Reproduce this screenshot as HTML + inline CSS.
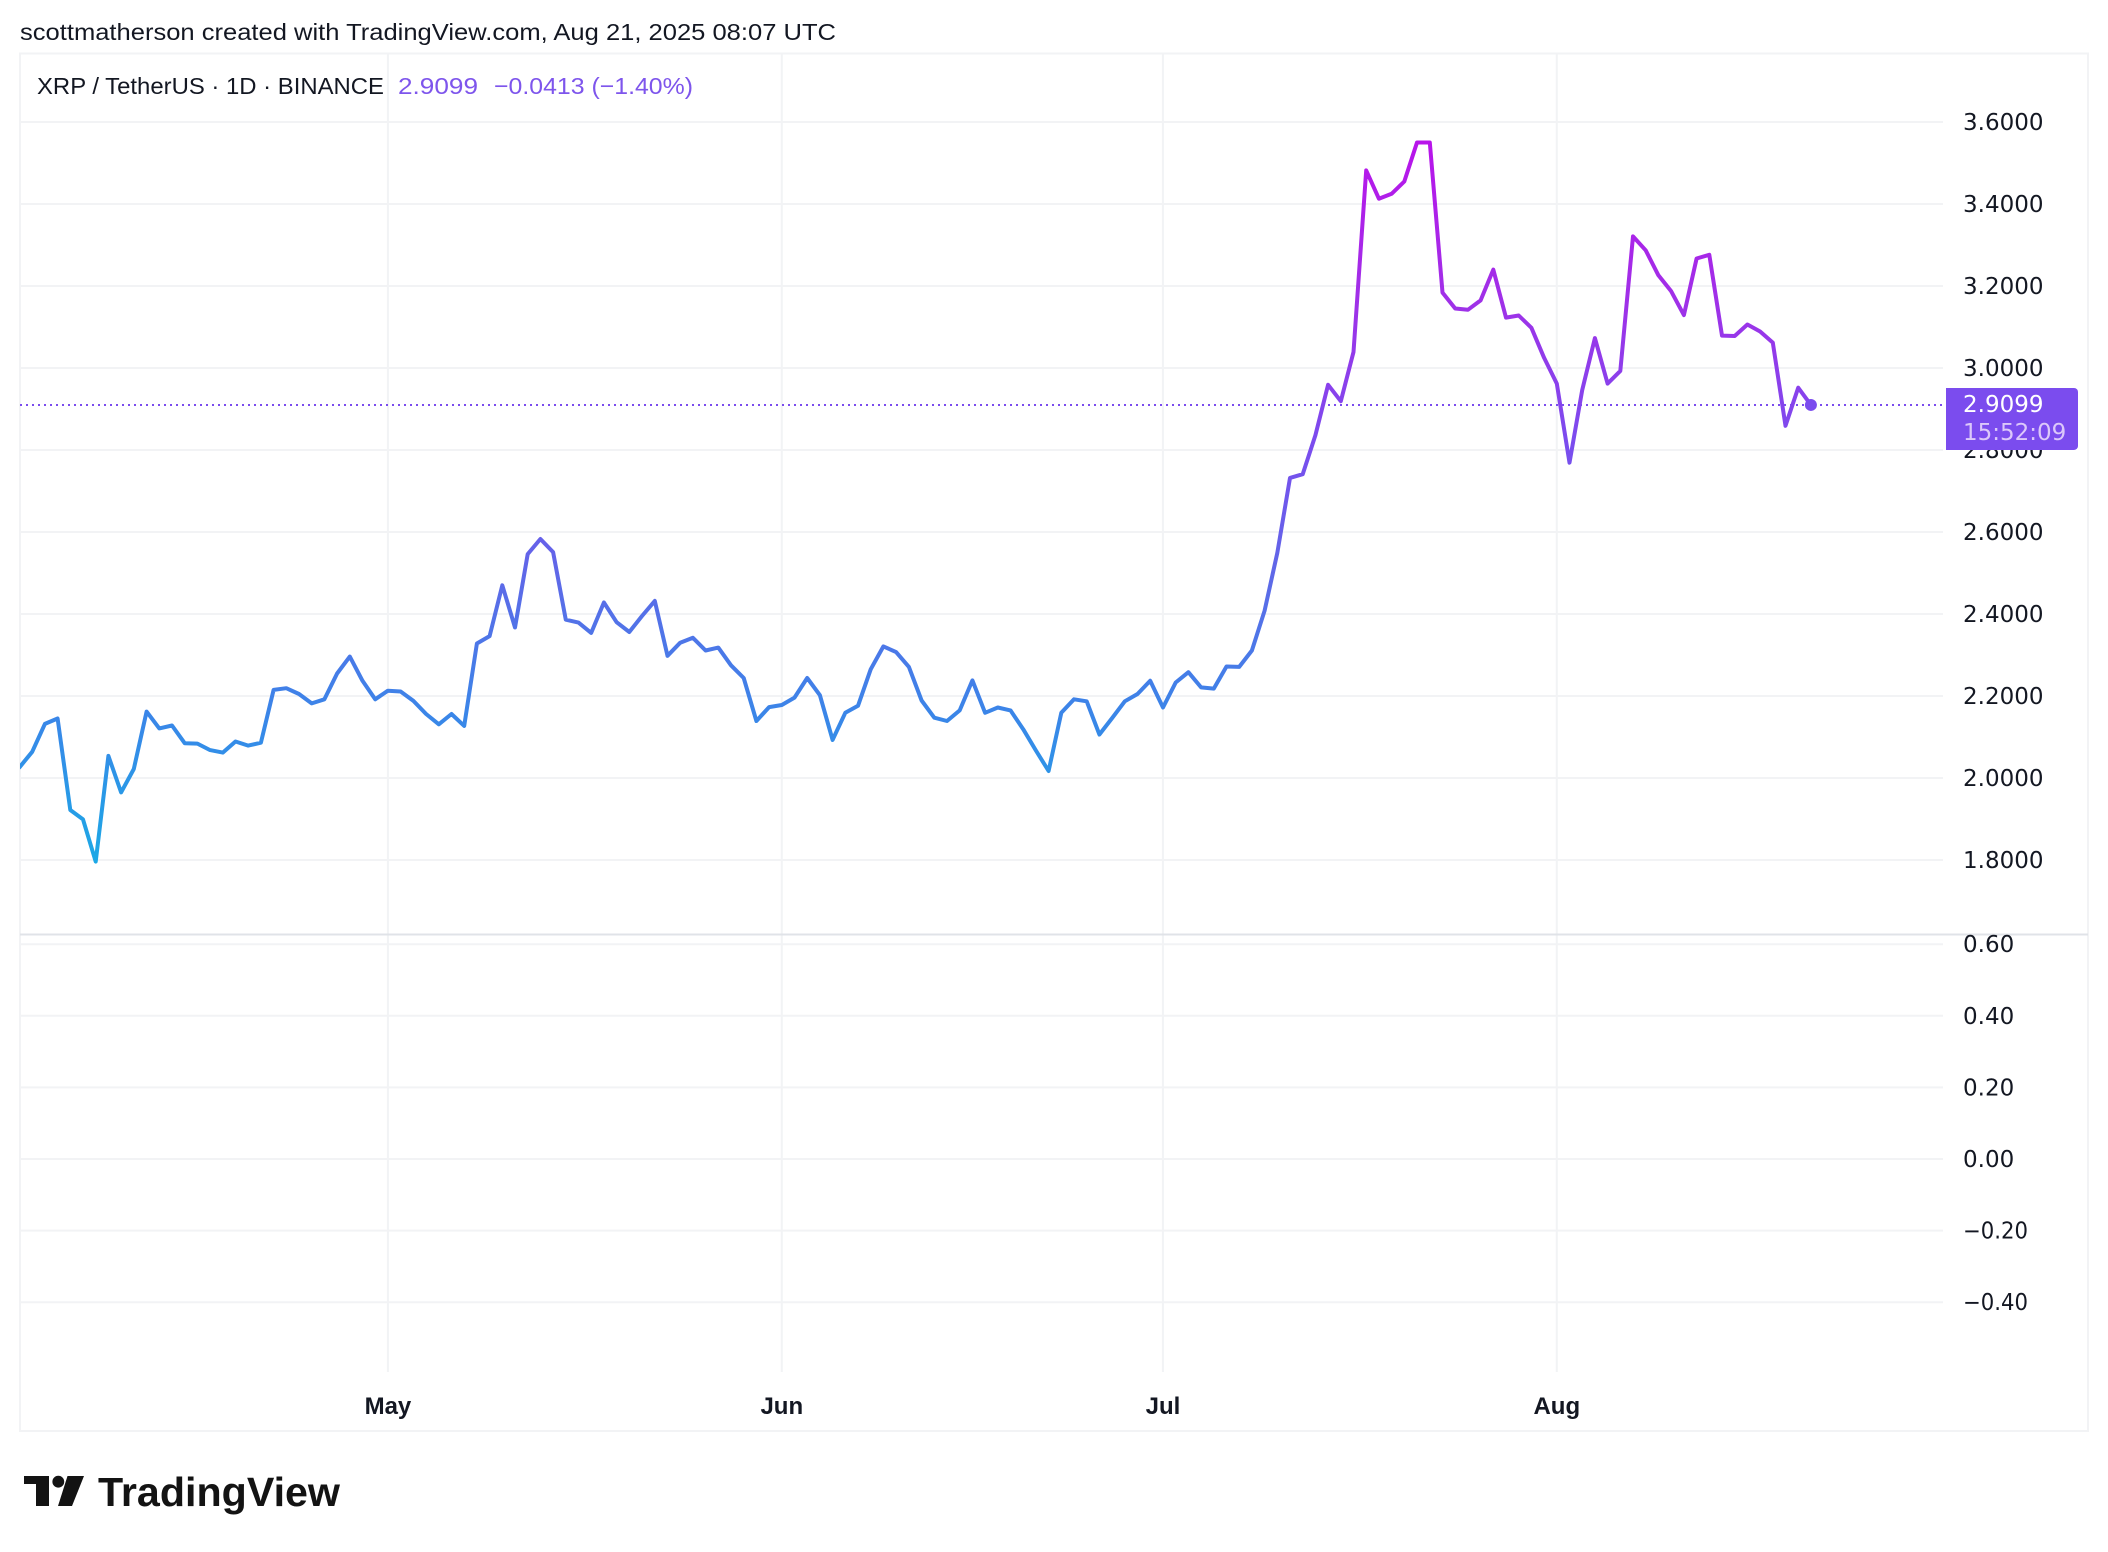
<!DOCTYPE html>
<html lang="en">
<head>
<meta charset="utf-8">
<title>XRP / TetherUS chart</title>
<style>
html,body{margin:0;padding:0;background:#fff;width:2108px;height:1552px;overflow:hidden}
svg{display:block}
text{font-family:"Liberation Sans",sans-serif;fill:#131722}
.axis{font-family:"DejaVu Sans","Liberation Sans",sans-serif;font-size:23px}
</style>
</head>
<body>
<svg id="chart" xmlns="http://www.w3.org/2000/svg" width="2108" height="1552" viewBox="0 0 2108 1552">
  <defs>
    <clipPath id="pane-clip"><rect x="20" y="54" width="1926" height="880"></rect></clipPath>
  </defs>
  <rect x="0" y="0" width="2108" height="1552" fill="#ffffff"></rect>
  <text x="20" y="40" font-size="23.5" textLength="816" lengthAdjust="spacingAndGlyphs">scottmatherson created with TradingView.com, Aug 21, 2025 08:07 UTC</text>
  <rect x="20" y="53.5" width="2068" height="1377.5" fill="none" stroke="#f2f3f5" stroke-width="2"></rect>
  <g id="grid"></g>
  <line x1="20" x2="2088" y1="934.5" y2="934.5" stroke="#e0e3e8" stroke-width="2"></line>
  <g id="plot" clip-path="url(#pane-clip)"></g>
  <g id="labels"></g>
  <g>
    <text x="37" y="94" font-size="23.5" textLength="347" lengthAdjust="spacingAndGlyphs">XRP / TetherUS · 1D · BINANCE</text>
    <text x="398" y="94" font-size="23.5" textLength="80" lengthAdjust="spacingAndGlyphs" style="fill:#7e55ec">2.9099</text>
    <text x="494" y="94" font-size="23.5" textLength="199" lengthAdjust="spacingAndGlyphs" style="fill:#7e55ec">−0.0413 (−1.40%)</text>
  </g>
  <g>
    <polygon points="24,1476 49,1476 49,1506 36,1506 36,1484 24,1484" fill="#131313"></polygon>
    <circle cx="58.3" cy="1481.7" r="5.9" fill="#131313"></circle>
    <polygon points="67.5,1476 84,1476 72,1506 58,1506" fill="#131313"></polygon>
    <text x="98" y="1506" font-size="41" font-weight="700" textLength="242" lengthAdjust="spacingAndGlyphs" style="fill:#131313">TradingView</text>
  </g>
</svg>
<script>
const aprCloses = [2.026,2.064,2.132,2.145,1.922,1.899,1.796,2.054,1.965,2.022,2.162,2.121,2.128,2.085,2.084,2.068,2.062,2.089,2.079,2.086,2.215,2.219,2.205,2.182,2.192,2.255,2.296,2.237,2.192];
const mayCloses = [2.213,2.211,2.188,2.156,2.131,2.156,2.127,2.328,2.346,2.470,2.367,2.546,2.583,2.551,2.386,2.379,2.354,2.428,2.380,2.356,2.395,2.432,2.298,2.330,2.342,2.311,2.318,2.275,2.244,2.139,2.173];
const junCloses = [2.178,2.196,2.244,2.202,2.093,2.159,2.176,2.265,2.321,2.307,2.271,2.189,2.147,2.139,2.165,2.238,2.159,2.172,2.165,2.119,2.067,2.017,2.159,2.192,2.187,2.106,2.146,2.187,2.205,2.237];
const julCloses = [2.172,2.233,2.258,2.221,2.218,2.272,2.271,2.311,2.408,2.549,2.732,2.741,2.836,2.959,2.919,3.039,3.482,3.413,3.425,3.455,3.550,3.550,3.184,3.145,3.142,3.165,3.240,3.123,3.128,3.098,3.025];
const augCloses = [2.962,2.769,2.946,3.073,2.962,2.993,3.321,3.287,3.226,3.187,3.129,3.267,3.276,3.079,3.078,3.106,3.089,3.062,2.859,2.952,2.9099];
const priceTicks = [3.6,3.4,3.2,3.0,2.8,2.6,2.4,2.2,2.0,1.8];
const lowerTicks = [0.6,0.4,0.2,0,-0.2,-0.4];
const monthLabels = ['May','Jun','Jul','Aug'];
const monthStartIndex = [29,60,90,121];
const countdownLabel = '15:52:09';

const closes = [].concat(aprCloses, mayCloses, junCloses, julCloses, augCloses);
const NS = 'http://www.w3.org/2000/svg';
const xAxis = function (i) { return 19.5 + 12.705 * i; };
const yAxis = function (p) { return 860 - (p - 1.8) * 410; };
const lowerAxis = function (v) { return 1159 - v * 358; };
const fmt = function (v, d) { return (v < 0 ? '\u2212' : '') + Math.abs(v).toFixed(d); };

function make(tag, attrs, parent) {
  const el = document.createElementNS(NS, tag);
  Object.keys(attrs).forEach(function (k) { el.setAttribute(k, attrs[k]); });
  parent.appendChild(el);
  return el;
}

const grid = document.getElementById('grid');
const plot = document.getElementById('plot');
const labels = document.getElementById('labels');
const GRID = '#f2f3f5';

monthStartIndex.forEach(function (idx, i) {
  const gx = xAxis(idx);
  const vline = make('line', {x1: gx, x2: gx, y1: 54, y2: 1372, stroke: GRID, 'stroke-width': 2}, grid);
  
  
  const t = make('text', {x: gx, y: 1414, 'font-size': 24, 'font-weight': 700, 'text-anchor': 'middle'}, labels);
  t.textContent = monthLabels[i];
  
  
});

priceTicks.forEach(function (p) {
  const gy = yAxis(p);
  const hline = make('line', {x1: 20, x2: 1943, y1: gy, y2: gy, stroke: GRID, 'stroke-width': 2}, grid);
  
  
  const t = make('text', {x: 1963, y: gy + 8, class: 'axis'}, labels);
  t.textContent = fmt(p, 4);
  
  
});

lowerTicks.forEach(function (v) {
  const gy = lowerAxis(v);
  const hline = make('line', {x1: 20, x2: 1943, y1: gy, y2: gy, stroke: GRID, 'stroke-width': 2}, grid);
  
  
  const t = make('text', {x: 1963, y: gy + 8, class: 'axis'}, labels);
  if (v < 0) {
    t.setAttribute('textLength', '65');
    t.setAttribute('lengthAdjust', 'spacingAndGlyphs');
  }
  t.textContent = fmt(v, 2);
  
  
});

const defs = document.querySelector('defs');
const grad = make('linearGradient', {id: 'line-gradient', gradientUnits: 'userSpaceOnUse', x1: 0, x2: 0, y1: yAxis(3.55), y2: yAxis(1.8)}, defs);
[[0, '#b814ea'], [0.22, '#a030e8'], [0.42, '#7b4cee'], [0.6, '#5f68e8'], [0.8, '#3a86e8'], [1, '#1ca8e6']].forEach(function (s) {
  make('stop', {offset: s[0], 'stop-color': s[1]}, grad);
});

const last = closes.length - 1;
const lastY = yAxis(closes[last]);

const priceLine = make('line', {x1: 20, x2: 1946, y1: lastY, y2: lastY, stroke: '#7b4cee', 'stroke-width': 2, 'stroke-dasharray': '2 4'}, plot);



const series = make('path', {
  d: closes.map(function (c, i) { return (i ? 'L' : 'M') + xAxis(i).toFixed(1) + ' ' + yAxis(c).toFixed(1); }).join(''),
  fill: 'none', stroke: 'url(#line-gradient)', 'stroke-width': 4, 'stroke-linejoin': 'round', 'stroke-linecap': 'round'
}, plot);



const dot = make('circle', {cx: xAxis(last), cy: lastY, r: 6, fill: '#7b4cee'}, plot);



const boxTop = lastY - 17;
const box = make('path', {d: 'M1946 ' + boxTop + 'H2074a4 4 0 0 1 4 4V' + (boxTop + 58) + 'a4 4 0 0 1 -4 4H1946Z', fill: '#7b4cee'}, labels);



const badgePrice = make('text', {x: 1963, y: lastY + 7, class: 'axis', style: 'fill:#ffffff'}, labels);
badgePrice.textContent = closes[last].toFixed(4);



const badgeTime = make('text', {x: 1963, y: lastY + 35, class: 'axis', style: 'fill:#dcc8fa'}, labels);
badgeTime.textContent = countdownLabel;


</script>
</body>
</html>
